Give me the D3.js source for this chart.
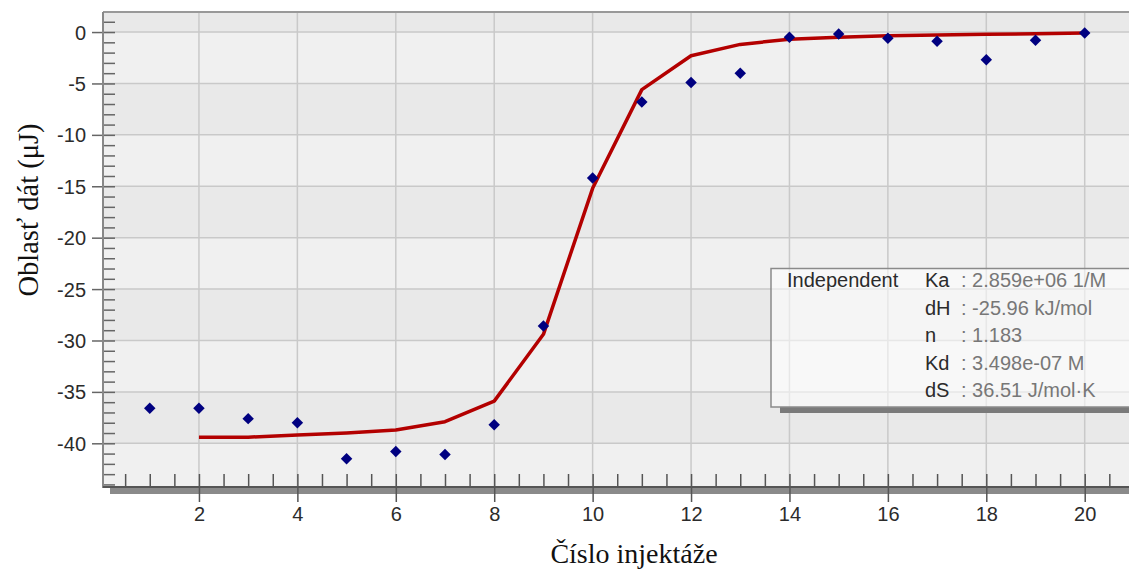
<!DOCTYPE html>
<html>
<head>
<meta charset="utf-8">
<script src="https://cdn.jsdelivr.net/npm/d3@7"></script>
<style>
  html, body { margin: 0; padding: 0; background: #fff; }
  svg { display: block; }
</style>
</head>
<body>
<svg id="chart" width="1129" height="571"></svg>
<script>
// Injection numbers and integrated heats (μJ)
const injections = [1, 2, 3, 4, 5, 6, 7, 8, 9, 10, 11, 12, 13, 14, 15, 16, 17, 18, 19, 20];
const heats = [-36.6, -36.6, -37.6, -38.0, -41.5, -40.8, -41.1, -38.2, -28.6, -14.2,
               -6.8, -4.9, -4.0, -0.5, -0.2, -0.6, -0.9, -2.7, -0.8, -0.1];

// Independent-site model fit
const fitX = [2, 3, 4, 5, 6, 7, 8, 9, 10, 11, 12, 13, 14, 15, 16, 17, 18, 19, 20];
const fitY = [-39.4, -39.4, -39.2, -39.0, -38.7, -37.9, -35.9, -29.4, -15.2, -5.6,
              -2.3, -1.2, -0.7, -0.5, -0.35, -0.28, -0.22, -0.16, -0.1];

const xTicks = [2, 4, 6, 8, 10, 12, 14, 16, 18, 20];
const yTicks = [0, -5, -10, -15, -20, -25, -30, -35, -40];

// Fit-result panel
const modelName = "Independent";
const paramNames = ["Ka", "dH", "n", "Kd", "dS"];
const paramValues = [": 2.859e+06 1/M", ": -25.96 kJ/mol", ": 1.183", ": 3.498e-07 M", ": 36.51 J/mol\u00b7K"];

const xTitle = "\u010c\u00edslo injekt\u00e1\u017ee";
const yTitle = "Oblas\u0165 d\u00e1t (\u03bcJ)";

const svg = d3.select("#chart");
const plotL = 103, plotR = 1129, plotT = 12, plotB = 487;

const x = d3.scaleLinear().domain([0.05, 20.9]).range([plotL, plotR]);
const y = d3.scaleLinear().domain([-44.25, 1.95]).range([plotB, plotT]);

const sans = "'Liberation Sans', Arial, sans-serif";
const serif = "'Liberation Serif', 'Times New Roman', serif";
const plainNum = d => String(d);   // hyphen-minus, as the instrument software prints

// Alternating horizontal background bands (5 μJ each)
const bandEdges = [1.95, 0, -5, -10, -15, -20, -25, -30, -35, -40, -44.25];
const bands = d3.pairs(bandEdges);
svg.append("g").selectAll("rect").data(bands).join("rect")
  .attr("x", plotL).attr("width", plotR - plotL)
  .attr("y", d => y(d[0]))
  .attr("height", d => y(d[1]) - y(d[0]))
  .attr("fill", (d, i) => i % 2 === 0 ? "#e9e9e9" : "#f0f0f0");

// Grid lines
const grid = svg.append("g").attr("stroke", "#c9c9c9").attr("stroke-width", 1.5);
grid.selectAll("line.v").data(xTicks).join("line").attr("class", "v")
  .attr("x1", d => x(d)).attr("x2", d => x(d))
  .attr("y1", plotT).attr("y2", plotB);
grid.selectAll("line.h").data(yTicks).join("line").attr("class", "h")
  .attr("x1", plotL).attr("x2", plotR)
  .attr("y1", d => y(d)).attr("y2", d => y(d));

// Top frame line
svg.append("line").attr("x1", plotL).attr("x2", plotR).attr("y1", plotT).attr("y2", plotT)
  .attr("stroke", "#999").attr("stroke-width", 2);

// Y axis: minor ticks inside, major ticks outside
const yMinor = d3.range(1, -45, -1);
const yMinorAxis = d3.axisRight(y).tickValues(yMinor).tickSize(12).tickFormat("");
const gyMinor = svg.append("g").attr("transform", `translate(${plotL},0)`).call(yMinorAxis);
gyMinor.select(".domain").remove();
gyMinor.selectAll("line").attr("stroke", "#666").attr("stroke-width", 1.5);

const yAxis = d3.axisLeft(y).tickValues(yTicks).tickSize(11).tickPadding(6).tickFormat(plainNum);
const gy = svg.append("g").attr("transform", `translate(${plotL},0)`).call(yAxis);
gy.select(".domain").remove();
gy.selectAll("line").attr("stroke", "#666").attr("stroke-width", 1.5);
gy.selectAll("text").attr("font-family", sans).attr("font-size", 20).attr("fill", "#2b2b2b")
  .attr("dy", "0.35em");

svg.append("line").attr("x1", plotL).attr("x2", plotL).attr("y1", plotT).attr("y2", plotB + 1)
  .attr("stroke", "#888").attr("stroke-width", 2);

// X axis: minor ticks every half injection, major ticks below
const xMinor = d3.range(0.5, 21, 0.5);
const xMinorAxis = d3.axisTop(x).tickValues(xMinor).tickSize(13).tickFormat("");
const gxMinor = svg.append("g").attr("transform", `translate(0,${plotB})`).call(xMinorAxis);
gxMinor.select(".domain").remove();
gxMinor.selectAll("line").attr("stroke", "#555").attr("stroke-width", 1.5);

// Axis base with its shadow bar
svg.append("rect").attr("x", plotL + 7).attr("y", plotB + 1).attr("width", plotR - plotL).attr("height", 6)
  .attr("fill", "#8a8a8a");
svg.append("line").attr("x1", plotL).attr("x2", plotR).attr("y1", plotB).attr("y2", plotB)
  .attr("stroke", "#555").attr("stroke-width", 2);

const xAxis = d3.axisBottom(x).tickValues(xTicks).tickSize(15).tickPadding(5).tickFormat(plainNum);
const gx = svg.append("g").attr("transform", `translate(0,${plotB})`).call(xAxis);
gx.select(".domain").remove();
gx.selectAll("line").attr("stroke", "#555").attr("stroke-width", 1.5);
gx.selectAll("text").attr("font-family", sans).attr("font-size", 20).attr("fill", "#2b2b2b");

// Fit curve
const line = d3.line().x((d, i) => x(fitX[i])).y(d => y(d));
svg.append("path").datum(fitY).attr("d", line)
  .attr("fill", "none").attr("stroke", "#b30000").attr("stroke-width", 3.5)
  .attr("stroke-linejoin", "round");

// Data points (diamonds)
const diamond = d3.symbol().type(d3.symbolSquare).size(66);
svg.append("g").selectAll("path").data(heats).join("path")
  .attr("d", diamond)
  .attr("transform", (d, i) => `translate(${x(injections[i])},${y(d)}) rotate(45)`)
  .attr("fill", "#000080");

// Fit-result panel
const box = svg.append("g");
box.append("rect").attr("x", 780).attr("y", 407).attr("width", 400).attr("height", 6).attr("fill", "#7a7a7a");
box.append("rect").attr("x", 771).attr("y", 268.5).attr("width", 400).attr("height", 138.5)
  .attr("fill", "#ffffff").attr("fill-opacity", 0.55)
  .attr("stroke", "#8a8a8a").attr("stroke-width", 1.5);

box.append("text").attr("x", 787).attr("y", 287).text(modelName)
  .attr("font-family", sans).attr("font-size", 20).attr("fill", "#2b2b2b");
box.selectAll("text.pn").data(paramNames).join("text").attr("class", "pn")
  .attr("x", 925).attr("y", (d, i) => 287 + i * 27.6).text(d => d)
  .attr("font-family", sans).attr("font-size", 20).attr("fill", "#2b2b2b");
box.selectAll("text.pv").data(paramValues).join("text").attr("class", "pv")
  .attr("x", 961).attr("y", (d, i) => 287 + i * 27.6).text(d => d)
  .attr("font-family", sans).attr("font-size", 20).attr("fill", "#777");

// Axis titles
svg.append("text").attr("x", 634).attr("y", 563).attr("text-anchor", "middle")
  .attr("font-family", serif).attr("font-size", 28).attr("fill", "#111").text(xTitle);
svg.append("text").attr("transform", "translate(38,210) rotate(-90)").attr("text-anchor", "middle")
  .attr("font-family", serif).attr("font-size", 28.5).attr("fill", "#111").text(yTitle);
</script>
</body>
</html>
